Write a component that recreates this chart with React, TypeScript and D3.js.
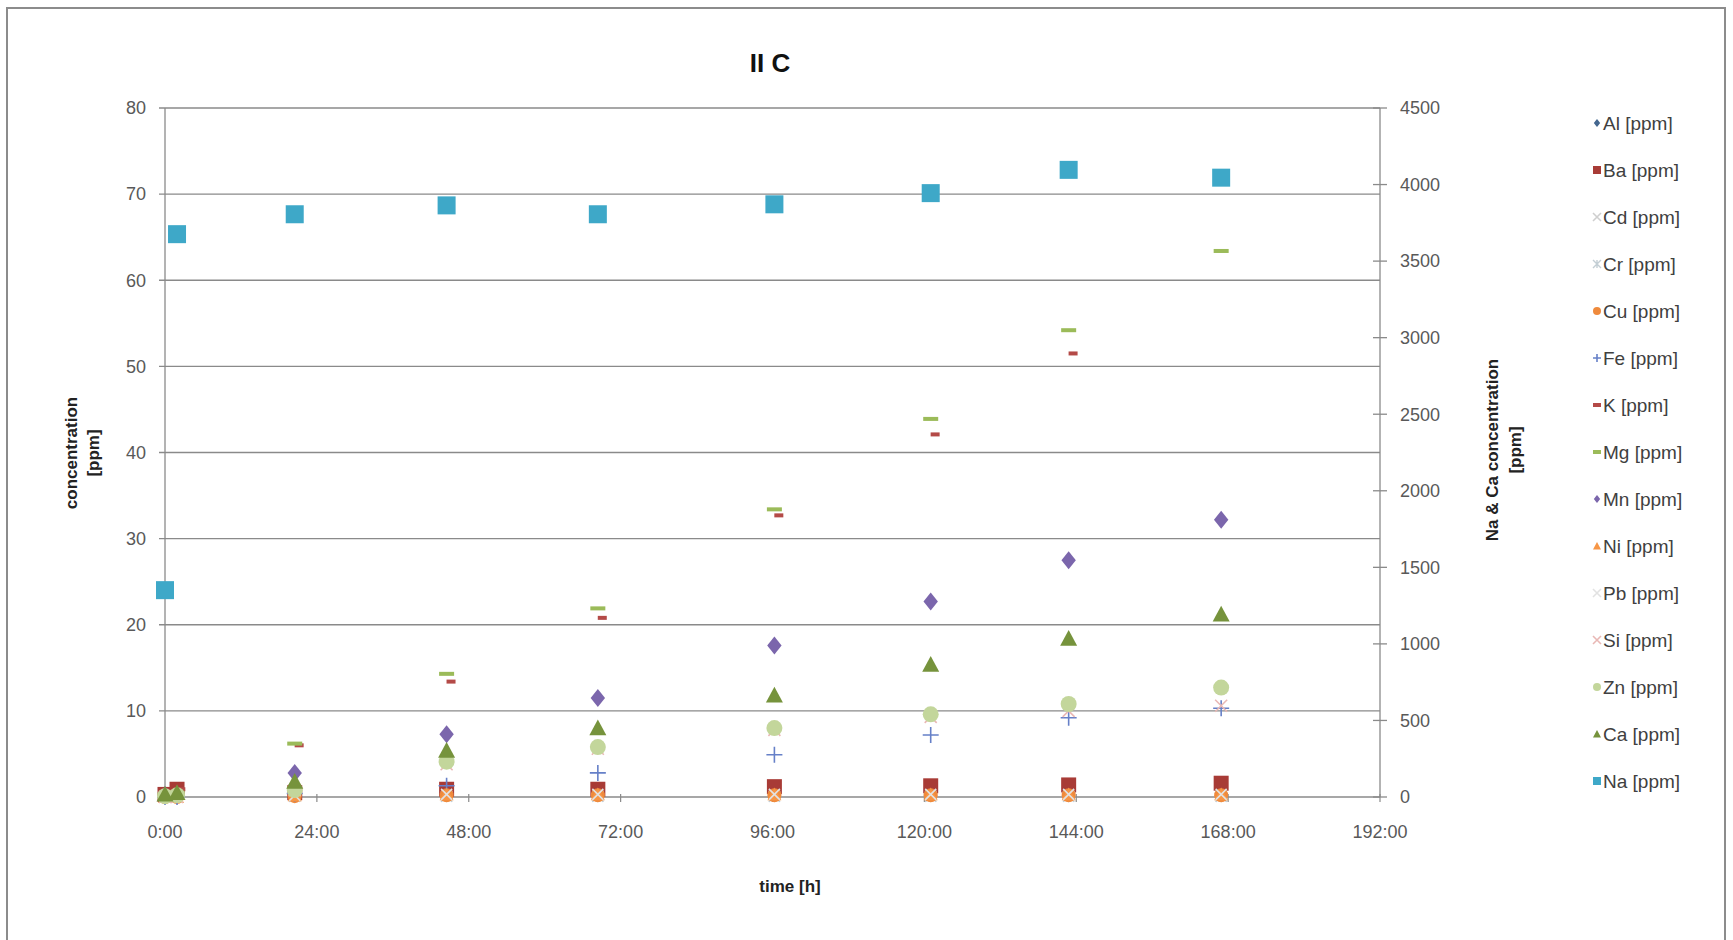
import React from 'react';
import * as d3 from 'd3';

// sampling times [h]
const times = [0, 1.9, 20.5, 44.5, 68.4, 96.3, 121, 142.8, 166.9];
const timesK = [0.6, 2.5, 21.2, 45.2, 69.1, 97.0, 121.7, 143.5, 167.6];

// left axis series [ppm]
const al = [0.1, 0.1, 0.2, 0.2, 0.2, 0.2, 0.2, 0.2, 0.2];
const ba = [0.3, 0.9, 0.5, 0.9, 0.9, 1.2, 1.3, 1.4, 1.6];
const cd = [0, 0, 0.1, 0.1, 0.1, 0.1, 0.1, 0.1, 0.1];
const cr = [0, 0, 0.1, 0.1, 0.1, 0.1, 0.1, 0.1, 0.1];
const cu = [0, 0, 0.1, 0.2, 0.2, 0.2, 0.2, 0.2, 0.2];
const fe = [0, 0, 0.4, 1.3, 2.8, 4.9, 7.2, 9.2, 10.3];
const k = [0.6, 0.9, 6.0, 13.4, 20.8, 32.7, 42.1, 51.5, null];
const mg = [0.3, 0.5, 6.2, 14.3, 21.9, 33.4, 43.9, 54.2, 63.4];
const mn = [0.2, 0.3, 2.8, 7.3, 11.5, 17.6, 22.7, 27.5, 32.2];
const ni = [0, 0, 0.2, 0.3, 0.3, 0.3, 0.3, 0.3, 0.3];
const pb = [0, 0, 0.2, 0.3, 0.3, 0.3, 0.3, 0.3, 0.3];
const si = [0, 0, 0.8, 3.8, 5.6, 7.8, 9.3, 10.0, 10.6];
const zn = [0.1, 0.2, 0.8, 4.1, 5.8, 8.0, 9.6, 10.8, 12.7];

// right axis series [ppm]
const ca = [17, 28, 101, 304, 450, 664, 866, 1035, 1193];
const na = [1351, 3676, 3806, 3864, 3806, 3871, 3944, 4096, 4045];

const xTicks = [0, 24, 48, 72, 96, 120, 144, 168, 192];
const leftTicks = [0, 10, 20, 30, 40, 50, 60, 70, 80];
const rightTicks = [0, 500, 1000, 1500, 2000, 2500, 3000, 3500, 4000, 4500];

type Series = {
  name: string;
  values: (number | null)[];
  t: number[];
  axis: 'L' | 'R';
  shape: string;
  color: string;
  size: number;
};

const series: Series[] = [
  { name: 'Al [ppm]', values: al, t: times, axis: 'L', shape: 'diamond', color: '#44678f', size: 14 },
  { name: 'Ba [ppm]', values: ba, t: times, axis: 'L', shape: 'square', color: '#a83b36', size: 15 },
  { name: 'Cd [ppm]', values: cd, t: times, axis: 'L', shape: 'x', color: '#cfcfcf', size: 11 },
  { name: 'Cr [ppm]', values: cr, t: times, axis: 'L', shape: 'star', color: '#c3ced4', size: 11 },
  { name: 'Cu [ppm]', values: cu, t: times, axis: 'L', shape: 'circle', color: '#ef8a3c', size: 14 },
  { name: 'Fe [ppm]', values: fe, t: times, axis: 'L', shape: 'plus', color: '#6680c8', size: 16 },
  { name: 'K [ppm]', values: k, t: timesK, axis: 'L', shape: 'dashS', color: '#b44a47', size: 9 },
  { name: 'Mg [ppm]', values: mg, t: times, axis: 'L', shape: 'dash', color: '#9bbb59', size: 15 },
  { name: 'Mn [ppm]', values: mn, t: times, axis: 'L', shape: 'diamond', color: '#7b66ac', size: 18 },
  { name: 'Ni [ppm]', values: ni, t: times, axis: 'L', shape: 'triangle', color: '#f79646', size: 14 },
  { name: 'Pb [ppm]', values: pb, t: times, axis: 'L', shape: 'x', color: '#e2e2e2', size: 11 },
  { name: 'Si [ppm]', values: si, t: times, axis: 'L', shape: 'x', color: '#e9b8b5', size: 12 },
  { name: 'Zn [ppm]', values: zn, t: times, axis: 'L', shape: 'circle', color: '#c3d69b', size: 16 },
  { name: 'Ca [ppm]', values: ca, t: times, axis: 'R', shape: 'triangle', color: '#76933c', size: 17 },
  { name: 'Na [ppm]', values: na, t: times, axis: 'R', shape: 'square', color: '#3ea8c8', size: 18 },
];

const W = 1733;
const H = 940;
const plotL = 165;
const plotR = 1380;
const plotT = 108;
const plotB = 797;
const FONT = 'Arial, "Liberation Sans", sans-serif';

const Marker = ({ shape, color, size, x, y }: { shape: string; color: string; size: number; x: number; y: number }) => {
  const h = size / 2;
  switch (shape) {
    case 'square':
      return <rect x={x - h} y={y - h} width={size} height={size} fill={color} />;
    case 'circle':
      return <circle cx={x} cy={y} r={h} fill={color} />;
    case 'diamond':
      return <path d={`M${x},${y - h}L${x + h * 0.8},${y}L${x},${y + h}L${x - h * 0.8},${y}Z`} fill={color} />;
    case 'triangle':
      return <path d={`M${x},${y - h}L${x + h},${y + h * 0.85}L${x - h},${y + h * 0.85}Z`} fill={color} />;
    case 'plus':
      return <path d={`M${x - h},${y}H${x + h}M${x},${y - h}V${y + h}`} stroke={color} strokeWidth={1.6} />;
    case 'x':
      return <path d={`M${x - h},${y - h}L${x + h},${y + h}M${x - h},${y + h}L${x + h},${y - h}`} stroke={color} strokeWidth={1.6} />;
    case 'star':
      return <path d={`M${x - h},${y - h}L${x + h},${y + h}M${x - h},${y + h}L${x + h},${y - h}M${x},${y - h}V${y + h}`} stroke={color} strokeWidth={1.4} />;
    case 'dash':
    case 'dashS':
      return <rect x={x - h} y={y - 2} width={size} height={4} fill={color} />;
    default:
      return null;
  }
};

export default function App() {
  const x = d3.scaleLinear().domain([0, 192]).range([plotL, plotR]);
  const yL = d3.scaleLinear().domain([0, 80]).range([plotB, plotT]);
  const yR = d3.scaleLinear().domain([0, 4500]).range([plotB, plotT]);

  const fmtTime = (h: number) => `${h}:00`;

  return (
    <div style={{ position: 'absolute', left: 0, top: 0 }}>
      <svg width={W} height={H} style={{ display: 'block', background: '#fff' }} fontFamily={FONT}>
        <rect x={7} y={8} width={1718} height={960} fill="#fff" stroke="#8c8c8c" strokeWidth={2} />

        <text x={770} y={72} textAnchor="middle" fontSize={26} fontWeight="bold" fill="#111">II C</text>

        {/* gridlines + left axis */}
        {leftTicks.map(v => (
          <g key={`l${v}`}>
            <line x1={plotL - 6} x2={plotR} y1={yL(v)} y2={yL(v)} stroke="#8a8a8a" strokeWidth={1.3} />
            <text x={146} y={yL(v)} dy="0.35em" textAnchor="end" fontSize={18} fill="#595959">{v}</text>
          </g>
        ))}
        <line x1={plotL} x2={plotL} y1={plotT} y2={plotB} stroke="#8a8a8a" strokeWidth={1.3} />

        {/* right axis */}
        <line x1={plotR} x2={plotR} y1={plotT} y2={plotB} stroke="#8a8a8a" strokeWidth={1.3} />
        {rightTicks.map(v => (
          <g key={`r${v}`}>
            <line x1={plotR - 7} x2={plotR + 7} y1={yR(v)} y2={yR(v)} stroke="#8a8a8a" strokeWidth={1.3} />
            <text x={1400} y={yR(v)} dy="0.35em" fontSize={18} fill="#595959">{v}</text>
          </g>
        ))}

        {/* x axis */}
        {xTicks.map(v => (
          <g key={`x${v}`}>
            <line x1={x(v)} x2={x(v)} y1={plotB - 3} y2={plotB + 5} stroke="#8a8a8a" strokeWidth={1.2} />
            <text x={x(v)} y={838} textAnchor="middle" fontSize={18} fill="#595959">{fmtTime(v)}</text>
          </g>
        ))}

        <text x={790} y={892} textAnchor="middle" fontSize={17} fontWeight="bold" fill="#222">time [h]</text>

        <text transform="translate(77,453) rotate(-90)" textAnchor="middle" fontSize={17} fontWeight="bold" fill="#222">
          <tspan x={0} dy={0}>concentration</tspan>
          <tspan x={0} dy={22}>[ppm]</tspan>
        </text>
        <text transform="translate(1498,450) rotate(-90)" textAnchor="middle" fontSize={17} fontWeight="bold" fill="#222">
          <tspan x={0} dy={0}>Na &amp; Ca concentration</tspan>
          <tspan x={0} dy={23}>[ppm]</tspan>
        </text>

        {/* data */}
        {series.map(s => (
          <g key={s.name}>
            {s.values.map((v, i) =>
              v == null ? null : (
                <Marker
                  key={i}
                  shape={s.shape}
                  color={s.color}
                  size={s.size}
                  x={x(s.t[i])}
                  y={s.axis === 'L' ? yL(v) : yR(v)}
                />
              )
            )}
          </g>
        ))}

        {/* legend */}
        {series.map((s, i) => {
          const ly = 123 + i * 47;
          return (
            <g key={`lg${s.name}`}>
              <Marker shape={s.shape} color={s.color} size={8} x={1597} y={ly} />
              <text x={1603} y={ly} dy="0.35em" fontSize={19} fill="#404040">{s.name}</text>
            </g>
          );
        })}
      </svg>
    </div>
  );
}
